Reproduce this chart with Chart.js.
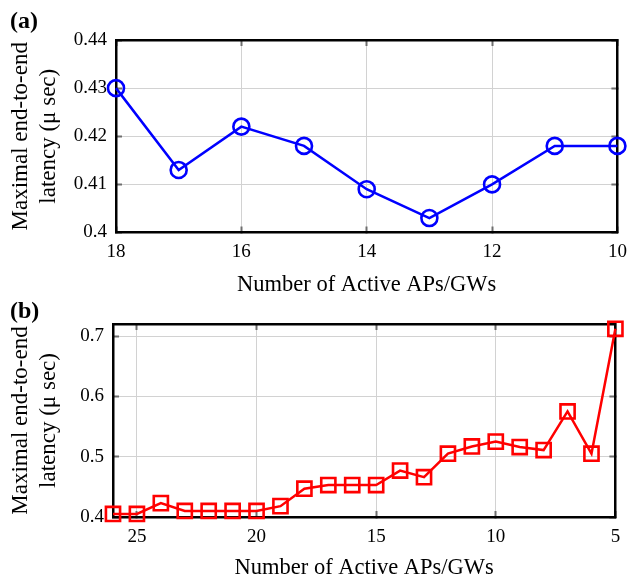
<!DOCTYPE html>
<html>
<head>
<meta charset="utf-8">
<script src="https://cdn.jsdelivr.net/npm/chart.js@4.4.0/dist/chart.umd.min.js"></script>
<style>
    html, body { margin: 0; padding: 0; background: #fff; overflow: hidden; }
    #wrap { position: relative; width: 628px; height: 576px; overflow: hidden; }
    .panel { position: absolute; left: 0; width: 628px; }
    .tag { position: absolute; left: 10px; font: bold 24px 'Liberation Serif', serif; color: #000; }
</style>
</head>
<body>
<div id="wrap">
    <div class="panel" style="top:0;height:300px"><canvas id="chartA"></canvas></div>
    <div class="panel" style="top:296px;height:290px"><canvas id="chartB"></canvas></div>
    <div class="tag" style="top:7px">(a)</div>
    <div class="tag" style="top:297px">(b)</div>
</div>
<script>
// (a) Daten
const apsA = [18, 17, 16, 15, 14, 13, 12, 11, 10];
const latencyA = [0.430, 0.413, 0.422, 0.418, 0.409, 0.403, 0.410, 0.418, 0.418];
const xTicksA = [18, 16, 14, 12, 10];
const yTicksA = [0.4, 0.41, 0.42, 0.43, 0.44];

// (b) Daten
const apsB = [26, 25, 24, 23, 22, 21, 20, 19, 18, 17, 16, 15, 14, 13, 12, 11, 10, 9, 8, 7, 6, 5];
const latencyB = [0.405, 0.405, 0.423, 0.410, 0.410, 0.410, 0.410, 0.418, 0.447, 0.453, 0.453, 0.453,
                  0.477, 0.466, 0.505, 0.517, 0.525, 0.516, 0.511, 0.575, 0.505, 0.712];
const xTicksB = [25, 20, 15, 10, 5];
const yTicksB = [0.4, 0.5, 0.6, 0.7];

const xTitle = 'Number of Active APs/GWs';
const yTitle = ['Maximal end-to-end', 'latency (\u03bc sec)'];

const FONT = "'Liberation Serif', serif";
const GRID = '#d2d2d2';
const TICK = '#6e6e6e';

function fixedTicks(list) {
    return scale => { scale.ticks = list.map(v => ({ value: v })); };
}

// keine automatische Randpolsterung durch Achsenbeschriftungen
function noPad(s) {
    s.paddingLeft = 0; s.paddingRight = 0; s.paddingTop = 0; s.paddingBottom = 0;
}

function buildScales(p) {
    const grid = { color: GRID, lineWidth: 1, tickLength: -6, tickColor: TICK, tickWidth: 2 };
    const border = { color: '#000', width: 2.5 };
    return {
        x: {
            type: 'linear', position: 'bottom', min: p.xMin, max: p.xMax, reverse: true,
            afterBuildTicks: fixedTicks(p.xTicks),
            afterFit: s => { s.height = p.xHeight; noPad(s); },
            grid, border,
            ticks: { font: { family: FONT, size: 19 }, color: '#000', padding: p.xPad, callback: v => String(v) },
            title: { display: true, text: xTitle, color: '#000', font: { family: FONT, size: 22.5 }, padding: { top: 0, bottom: p.titlePad } }
        },
        x2: {
            type: 'linear', position: 'top', min: p.xMin, max: p.xMax, reverse: true,
            afterBuildTicks: fixedTicks(p.xTicks),
            afterFit: s => { s.height = 0; noPad(s); },
            grid: { ...grid, drawOnChartArea: false }, border,
            ticks: { display: false }
        },
        y: {
            type: 'linear', position: 'left', min: p.yMin, max: p.yMax,
            afterBuildTicks: fixedTicks(p.yTicks),
            afterFit: s => { s.width = p.yWidth; noPad(s); },
            grid, border,
            ticks: { font: { family: FONT, size: 19 }, color: '#000', padding: 15, callback: v => String(v) },
            title: { display: true, text: yTitle, color: '#000', font: { family: FONT, size: 23, lineHeight: 1.22 }, padding: { top: 7, bottom: 0 } }
        },
        y2: {
            type: 'linear', position: 'right', min: p.yMin, max: p.yMax,
            afterBuildTicks: fixedTicks(p.yTicks),
            afterFit: s => { s.width = 0; noPad(s); },
            grid: { ...grid, drawOnChartArea: false }, border,
            ticks: { display: false }
        }
    };
}

function makeChart(id, xs, ys, ds, p) {
    const ctx = document.getElementById(id).getContext('2d');
    return new Chart(ctx, {
        type: 'line',
        data: {
            datasets: [{
                data: xs.map((x, i) => ({ x: x, y: ys[i] })),
                xAxisID: 'x',
                yAxisID: 'y',
                tension: 0,
                clip: false,
                pointBackgroundColor: 'rgba(0,0,0,0)',
                ...ds
            }]
        },
        options: {
            responsive: true,
            maintainAspectRatio: false,
            animation: false,
            layout: { padding: { top: p.padTop, right: p.padRight, left: 0, bottom: 0 } },
            plugins: { legend: { display: false }, tooltip: { enabled: false } },
            scales: buildScales(p)
        }
    });
}

makeChart('chartA', apsA, latencyA, {
    borderColor: '#0000ff', borderWidth: 2.5,
    pointStyle: 'circle', pointRadius: 8, pointBorderColor: '#0000ff', pointBorderWidth: 2.6
}, {
    xMin: 10, xMax: 18, xTicks: xTicksA, yMin: 0.4, yMax: 0.44, yTicks: yTicksA,
    padTop: 40, padRight: 10, xHeight: 67.5, xPad: 14, titlePad: 1, yWidth: 116
});

makeChart('chartB', apsB, latencyB, {
    borderColor: '#ff0000', borderWidth: 2.5,
    pointStyle: 'rect', pointRadius: 10, pointBorderColor: '#ff0000', pointBorderWidth: 2.6
}, {
    xMin: 5, xMax: 26, xTicks: xTicksB, yMin: 0.4, yMax: 0.72, yTicks: yTicksB,
    padTop: 28, padRight: 12, xHeight: 69, xPad: 14.5, titlePad: 4, yWidth: 113
});
</script>
</body>
</html>
